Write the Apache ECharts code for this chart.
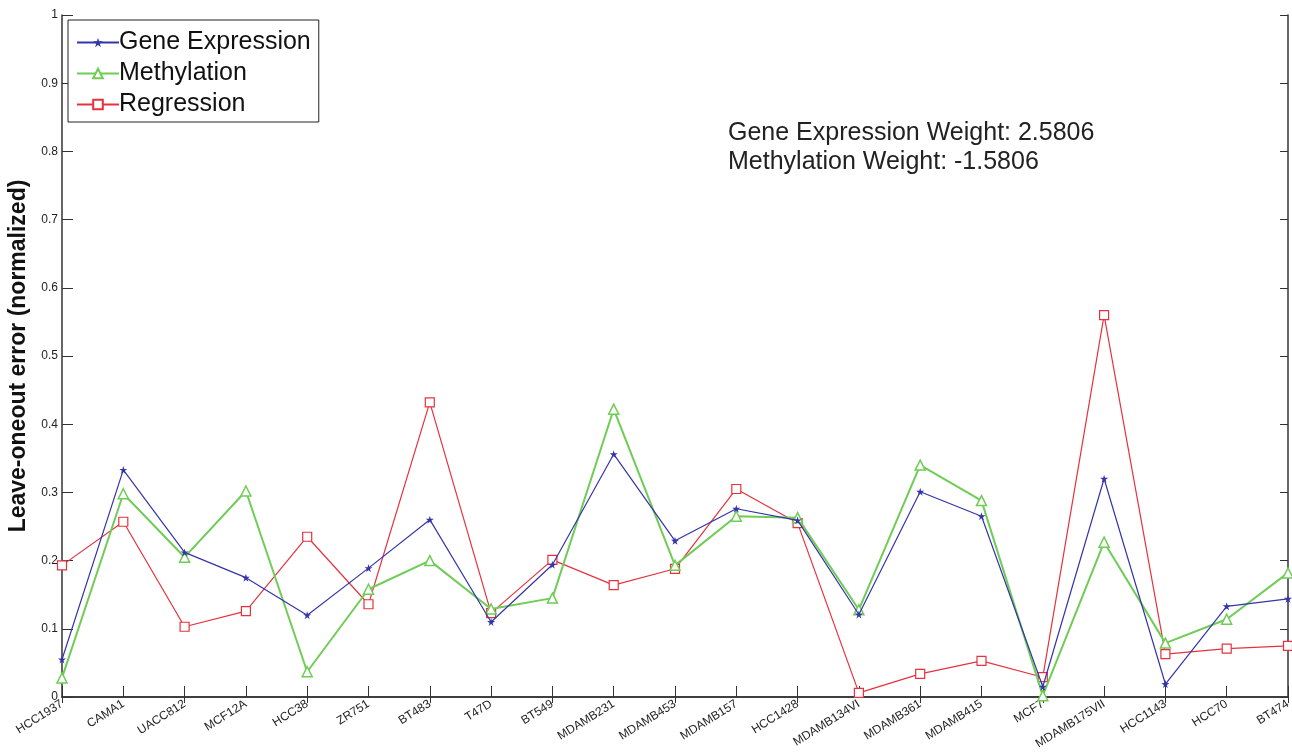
<!DOCTYPE html>
<html>
<head>
<meta charset="utf-8">
<script src="https://cdn.jsdelivr.net/npm/echarts@6/dist/echarts.min.js"></script>
<style>
  html, body { margin: 0; padding: 0; background: #fff; }
  #chart { width: 1292px; height: 754px; }
</style>
</head>
<body>
<div id="chart"></div>
<script>
const chart = echarts.init(document.getElementById('chart'));

// 细胞系
const cellLines = ['HCC1937', 'CAMA1', 'UACC812', 'MCF12A', 'HCC38', 'ZR751', 'BT483', 'T47D', 'BT549',
  'MDAMB231', 'MDAMB453', 'MDAMB157', 'HCC1428', 'MDAMB134VI', 'MDAMB361', 'MDAMB415', 'MCF7',
  'MDAMB175VII', 'HCC1143', 'HCC70', 'BT474'];

// 三条曲线
const geneExpression = [0.055, 0.333, 0.212, 0.175, 0.120, 0.189, 0.260, 0.110, 0.194, 0.356, 0.229,
  0.276, 0.259, 0.121, 0.301, 0.265, 0.015, 0.320, 0.019, 0.133, 0.144];
const methylation = [0.028, 0.298, 0.205, 0.302, 0.037, 0.158, 0.200, 0.129, 0.145, 0.422, 0.193,
  0.265, 0.263, 0.128, 0.340, 0.288, 0.002, 0.227, 0.079, 0.114, 0.182];
const regression = [0.193, 0.257, 0.103, 0.126, 0.235, 0.136, 0.432, 0.123, 0.201, 0.164, 0.188,
  0.305, 0.255, 0.006, 0.034, 0.053, 0.029, 0.560, 0.063, 0.071, 0.075];

const notes = ['Gene Expression Weight: 2.5806', 'Methylation Weight: -1.5806'];

const blue = '#3535aa';
const green = '#6fcc55';
const red = '#e5323e';
const starIcon = 'path://M50,0 L61,35 L98,35 L68,57 L79,92 L50,70 L21,92 L32,57 L2,35 L39,35 Z';

const font = 'Liberation Sans, Arial, sans-serif';

const option = {
  animation: false,
  backgroundColor: '#fff',
  grid: { left: 62, right: 4, top: 15, bottom: 57, outerBoundsMode: 'none' },
  legend: {
    orient: 'vertical',
    left: 68,
    top: 20,
    backgroundColor: '#fff',
    borderColor: '#222',
    borderWidth: 1,
    borderRadius: 0,
    padding: [10, 8, 5, 8],
    itemWidth: 42,
    itemHeight: 12,
    itemGap: 6,
    textStyle: { fontFamily: font, fontSize: 25, color: '#111', padding: [0, 0, 0, -5] },
    data: ['Gene Expression', 'Methylation', 'Regression']
  },
  xAxis: [
    {
      type: 'category',
      data: cellLines,
      boundaryGap: false,
      axisLine: { lineStyle: { color: '#333', width: 1.5 } },
      axisTick: { inside: true, length: 11, lineStyle: { color: '#333' } },
      axisLabel: { rotate: 32, fontSize: 12, fontFamily: font, color: '#222', margin: 6, interval: 0 }
    },
    {
      type: 'category',
      data: cellLines,
      boundaryGap: false,
      position: 'top',
      axisLine: { lineStyle: { color: '#333', width: 1.5 } },
      axisTick: { inside: true, length: 6, lineStyle: { color: '#333' } },
      axisLabel: { show: false }
    }
  ],
  yAxis: [
    {
      type: 'value',
      min: 0,
      max: 1,
      interval: 0.1,
      name: 'Leave-oneout error (normalized)',
      nameLocation: 'middle',
      nameGap: 28,
      nameTextStyle: { fontFamily: font, fontSize: 23, fontWeight: 'bold', color: '#111' },
      splitLine: { show: false },
      axisLine: { show: true, lineStyle: { color: '#333', width: 1.5 } },
      axisTick: { show: true, inside: true, length: 11, lineStyle: { color: '#333' } },
      axisLabel: { fontSize: 12, fontFamily: font, color: '#222', margin: 4,
        formatter: v => (v === 0 || v === 1) ? String(v) : v.toFixed(1) }
    },
    {
      type: 'value',
      min: 0,
      max: 1,
      interval: 0.1,
      position: 'right',
      splitLine: { show: false },
      axisLine: { show: true, lineStyle: { color: '#333', width: 1.5 } },
      axisTick: { show: true, inside: true, length: 8, lineStyle: { color: '#333' } },
      axisLabel: { show: false }
    }
  ],
  series: [
    {
      name: 'Gene Expression',
      type: 'line',
      data: geneExpression,
      symbol: starIcon,
      symbolSize: 8,
      lineStyle: { color: blue, width: 1.2 },
      itemStyle: { color: blue },
      z: 4
    },
    {
      name: 'Methylation',
      type: 'line',
      data: methylation,
      symbol: 'triangle',
      symbolSize: 10,
      lineStyle: { color: green, width: 2 },
      itemStyle: { color: '#fff', borderColor: green, borderWidth: 1.5 },
      z: 3
    },
    {
      name: 'Regression',
      type: 'line',
      data: regression,
      symbol: 'rect',
      symbolSize: 9,
      lineStyle: { color: red, width: 1.2 },
      itemStyle: { color: '#fff', borderColor: red, borderWidth: 1.2 },
      z: 2
    }
  ],
  graphic: [
    {
      type: 'text',
      left: 728,
      top: 121,
      style: { text: notes[0], fontFamily: font, fontSize: 25, fill: '#222' }
    },
    {
      type: 'text',
      left: 728,
      top: 150,
      style: { text: notes[1], fontFamily: font, fontSize: 25, fill: '#222' }
    }
  ]
};

chart.setOption(option);
window.addEventListener('resize', function () { chart.resize(); });
</script>
</body>
</html>
